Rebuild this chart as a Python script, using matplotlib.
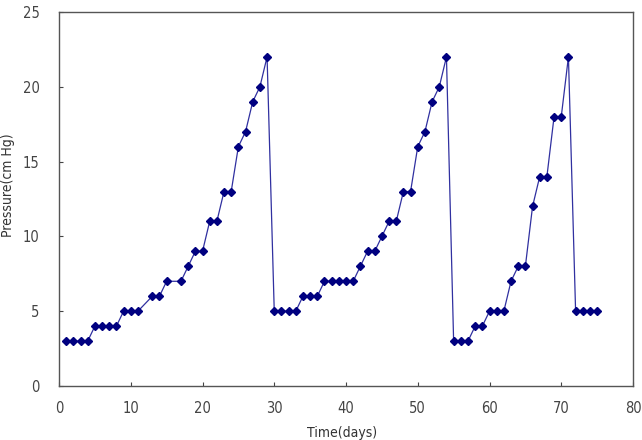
import matplotlib
matplotlib.use("Agg")
import matplotlib.pyplot as plt

days = [1, 2, 3, 4, 5, 6, 7, 8, 9, 10, 11, 13, 14, 15, 17, 18, 19, 20, 21, 22, 23, 24,
        25, 26, 27, 28, 29,
        30, 31, 32, 33, 34, 35, 36, 37, 38, 39, 40, 41, 42, 43, 44, 45, 46, 47, 48, 49,
        50, 51, 52, 53, 54,
        55, 56, 57, 58, 59, 60, 61, 62, 63, 64, 65, 66, 67, 68, 69, 70, 71,
        72, 73, 74, 75]
pressure = [3, 3, 3, 3, 4, 4, 4, 4, 5, 5, 5, 6, 6, 7, 7, 8, 9, 9, 11, 11, 13, 13,
            16, 17, 19, 20, 22,
            5, 5, 5, 5, 6, 6, 6, 7, 7, 7, 7, 7, 8, 9, 9, 10, 11, 11, 13, 13,
            16, 17, 19, 20, 22,
            3, 3, 3, 4, 4, 5, 5, 5, 7, 8, 8, 12, 14, 14, 18, 18, 22,
            5, 5, 5, 5]

plt.rcParams['font.family'] = ['DejaVu Sans']
plt.rcParams['font.stretch'] = 'condensed'

fig = plt.figure(figsize=(6.42, 4.40), dpi=100)
ax = fig.add_axes([59/642, 1 - 386/440, (633 - 59)/642, (386 - 12)/440])
ax.plot(days, pressure, color='#3030a0', linewidth=0.9, marker='D', markersize=3.8,
        markerfacecolor='#000080', markeredgecolor='#000080')
ax.set_xlim(0, 80)
ax.set_ylim(0, 25)
ax.set_xticks(range(0, 81, 10))
ax.set_yticks(range(0, 26, 5))
ax.tick_params(axis='both', direction='in', length=3, width=0.8, labelsize=10.5,
               colors='#444444')
ax.tick_params(axis='x', pad=11)
ax.tick_params(axis='y', pad=14)
for s in ax.spines.values():
    s.set_color('#555555')
    s.set_linewidth(1.0)
ax.set_xlabel('Time(days)', fontsize=10, color='#333333')
ax.set_ylabel('Pressure(cm Hg)', fontsize=10, color='#333333')
ax.xaxis.set_label_coords(0.494, -0.106)
ax.yaxis.set_label_coords(-0.076, 0.537)
fig.savefig('out.png', dpi=100)
